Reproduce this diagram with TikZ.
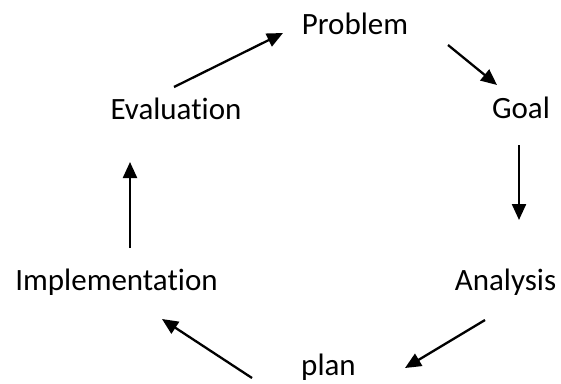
\documentclass[tikz,border=0pt]{standalone}
\usepackage{fontspec}
\setmainfont[Ligatures=NoCommon]{Carlito}
\usetikzlibrary{arrows.meta}
\begin{document}
\begin{tikzpicture}[x=1pt,y=-1pt,
  stage/.style={anchor=base,inner sep=0pt,font=\fontsize{31}{37}\selectfont},
  arr/.style={line width=2.3pt,-{Triangle[length=16pt,width=14pt]}}]
\useasboundingbox (0,0) rectangle (561,383);
% stages of the cycle, placed at their baselines
\node[stage] (problem) at (355,34) {Problem};
\node[stage] (goal) at (521,118) {Goal};
\node[stage] (analysis) at (505.5,290) {Analysis};
\node[stage] (plan) at (328.5,375) {plan};
\node[stage] (implementation) at (116.5,290) {Implementation};
\node[stage] (evaluation) at (176,119) {Evaluation};
% arrows, clockwise
\draw[arr] ([shift={(-2,-32)}]evaluation.base) -- ([shift={(-72,-1)}]problem.base);
\draw[arr] ([shift={(93,11)}]problem.base) -- ([shift={(-24,-33)}]goal.base);
\draw[arr] ([shift={(-2,27)}]goal.base) -- ([shift={(13.5,-70)}]analysis.base);
\draw[arr] ([shift={(-20.5,30)}]analysis.base) -- ([shift={(76.5,-7)}]plan.base);
\draw[arr] ([shift={(-76.5,3)}]plan.base) -- ([shift={(45.5,29)}]implementation.base);
\draw[arr] ([shift={(13.5,-42)}]implementation.base) -- ([shift={(-46,43)}]evaluation.base);
\end{tikzpicture}
\end{document}
